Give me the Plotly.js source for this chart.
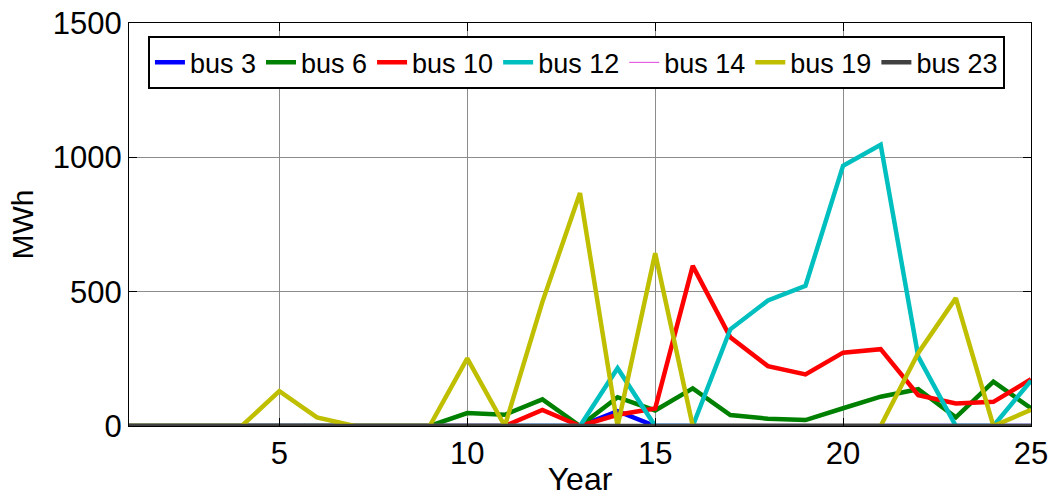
<!DOCTYPE html>
<html>
<head>
<meta charset="utf-8">
<script src="https://cdn.plot.ly/plotly-3.0.1.min.js"></script>
<style>html,body{margin:0;padding:0;background:#fff;}#chart{width:1055px;height:497px;}</style>
</head>
<body>
<div id="chart"></div>
<script>
const years = [1,2,3,4,5,6,7,8,9,10,11,12,13,14,15,16,17,18,19,20,21,22,23,24,25];
const bus3  = [0,0,0,0,0,0,0,0,0,0,0,0,0,55,0,0,0,0,0,0,0,0,0,0,0];
const bus6  = [0,0,0,0,0,0,0,0,0,48,42,99,0,107,58,140,41,27,22,66,109,137,32,165,66];
const bus10 = [0,0,0,0,0,0,0,0,0,0,0,60,0,42,65,596,330,223,192,273,286,115,84,90,174];
const bus12 = [0,0,0,0,0,0,0,0,0,0,0,0,0,215,0,0,360,467,522,969,1047,258,0,0,169];
const bus14 = [0,0,0,0,0,0,0,0,0,0,0,0,0,0,0,0,0,0,0,0,0,0,0,0,0];
const bus19 = [0,0,0,0,130,32,0,0,0,252,0,462,867,0,643,0,0,0,0,0,0,272,476,0,60];
const bus23 = [0,0,0,0,0,0,0,0,0,0,0,0,0,0,0,0,0,0,0,0,0,0,0,0,0];
const names = ['bus 3','bus 6','bus 10','bus 12','bus 14','bus 19','bus 23'];
const series = [bus3, bus6, bus10, bus12, bus14, bus19, bus23];
const colors = ['#0000ff','#008000','#ff0000','#00bfbf','#e040e0','#bfbf00','#404040'];
const widths = [4.5,4.5,4.5,4.5,1,4.5,4.5];
const xTicks = [5,10,15,20,25];
const yTicks = [0,500,1000,1500];

const traces = series.map((s,i)=>({
  x: years, y: s, name: names[i], type:'scatter', mode:'lines',
  line:{color:colors[i], width:widths[i]}
}));

const font = {family:'"Liberation Sans", Arial, Helvetica, sans-serif', color:'#000'};
const layout = {
  width:1055, height:497,
  margin:{l:129, r:24, t:23, b:71},
  paper_bgcolor:'#fff', plot_bgcolor:'#fff',
  font: font,
  showlegend:true,
  legend:{orientation:'h', x:0.021, y:0.967, xanchor:'left', yanchor:'top',
    bgcolor:'#fff', bordercolor:'#000', borderwidth:2,
    font:{family:font.family, size:27, color:'#000'}, itemwidth:30, tracegroupgap:0},
  xaxis:{range:[1,25], tickvals:xTicks, ticktext:xTicks.map(String),
    showgrid:true, gridcolor:'#8c8c8c', gridwidth:1, zeroline:false,
    showline:true, linecolor:'#000', linewidth:1, mirror:'ticks',
    ticks:'inside', ticklen:8, tickcolor:'#000',
    tickfont:{family:font.family, size:31, color:'#000'},
    title:{text:'Year', font:{family:font.family, size:32, color:'#000'}, standoff:4}},
  yaxis:{range:[0,1500], tickvals:yTicks, ticktext:yTicks.map(String),
    showgrid:true, gridcolor:'#8c8c8c', gridwidth:1, zeroline:false,
    showline:true, linecolor:'#000', linewidth:1, mirror:'ticks',
    ticks:'inside', ticklen:8, tickcolor:'#000',
    tickfont:{family:font.family, size:31, color:'#000'},
    title:{text:'MWh', font:{family:font.family, size:30, color:'#000'}, standoff:10}}
};
Plotly.newPlot('chart', traces, layout, {staticPlot:true, displayModeBar:false});
</script>
</body>
</html>
